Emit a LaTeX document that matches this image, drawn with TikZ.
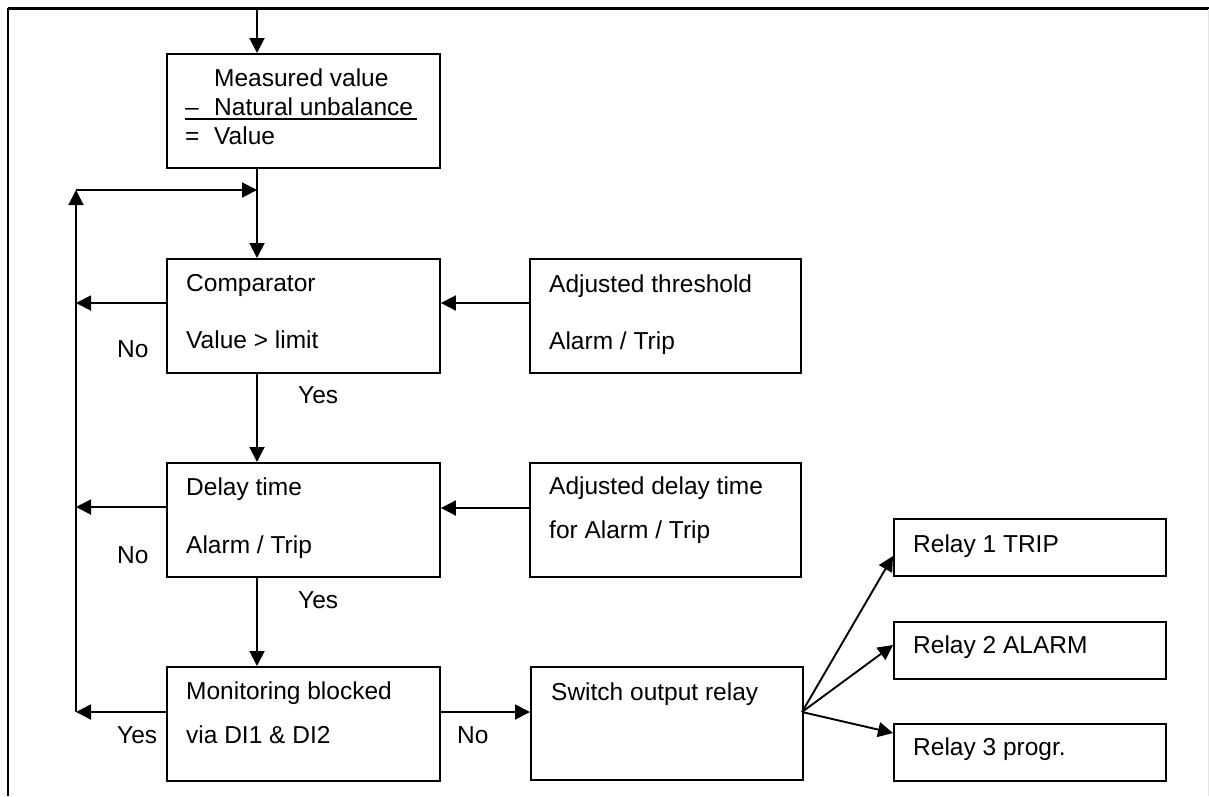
\documentclass[tikz,border=0pt]{standalone}
\usepackage{fontspec}
\setmainfont{Liberation Sans}
\usetikzlibrary{arrows.meta,calc}
\begin{document}
\begin{tikzpicture}[x=1pt,y=-1pt,
  box/.style={draw, line width=1.9pt, inner sep=0pt, anchor=north west, minimum width=273pt, minimum height=114pt},
  rbox/.style={draw, line width=1.9pt, inner sep=0pt, anchor=north west, minimum width=272pt, minimum height=57pt},
  txt/.style={anchor=base west, inner sep=0pt, font=\fontsize{24.5}{29}\selectfont},
  arr/.style={line width=1.9pt, -{Triangle[length=15pt,width=15pt]}},
  ln/.style={line width=1.9pt}]
\useasboundingbox (0,0) rectangle (1209,796);
% frame
\draw[line width=3pt] (8,8) -- (1209,8);
\draw[line width=2pt] (8,8) -- (8,796);
\draw[line width=1pt, black!10] (1208,9) -- (1208,796);
% boxes
\node[box] (meas) at (166,53) {};
\node[box] (comp) at (166,258) {};
\node[box, minimum width=271pt] (thr) at (529,258) {};
\node[box] (delay) at (166,462) {};
\node[box, minimum width=271pt] (adel) at (529,462) {};
\node[box] (mon) at (166,666) {};
\node[box, minimum width=272pt, minimum height=113pt] (sw) at (530,666) {};
\node[rbox] (r1) at (893,518) {};
\node[rbox] (r2) at (893,621) {};
\node[rbox] (r3) at (893,723) {};
% texts
\node[txt] (t1) at (214,86) {Measured value};
\node[txt] (t2a) at (185,115) {–};
\node[txt] (t2) at (214,115) {Natural unbalance};
\node[txt] (t3a) at (185,144) {=};
\node[txt] (t3) at (214,144) {Value};
\draw[ln] (185,119) -- (417,119);
\node[txt] (c1) at (186,291) {Comparator};
\node[txt] (c2) at (186,348) {Value > limit};
\node[txt] (th1) at (549,292) {Adjusted threshold};
\node[txt] (th2) at (549,349) {Alarm / Trip};
\node[txt] (d1) at (186,495) {Delay time};
\node[txt] (d2) at (186,553) {Alarm / Trip};
\node[txt] (ad1) at (549,494) {Adjusted delay time};
\node[txt] (ad2) at (549,538) {for Alarm / Trip};
\node[txt] (m1) at (186,699) {Monitoring blocked};
\node[txt] (m2) at (186,743) {via DI1 \& DI2};
\node[txt] (s1) at (551,700) {Switch output relay};
\node[txt] (rt1) at (913,552) {Relay 1 TRIP};
\node[txt] (rt2) at (913,653) {Relay 2 ALARM};
\node[txt] (rt3) at (913,755) {Relay 3 progr.};
\node[txt] (no1) at (117,357) {No};
\node[txt] (no2) at (117,563) {No};
\node[txt] (yes1) at (298,403) {Yes};
\node[txt] (yes2) at (298,608) {Yes};
\node[txt] (yes3) at (117,743) {Yes};
\node[txt] (no3) at (457,743) {No};
% coordinates
\coordinate (top) at (257,8);
\coordinate (join) at (257,190);
\coordinate (ltop) at (76,190);
\coordinate (lc) at (76,303);
\coordinate (ld) at (76,507);
\coordinate (lm) at (76,712);
\coordinate (fan) at (802,712);
% connectors
\draw[arr] (top) -- (top |- meas.north);
\draw[arr] (top |- meas.south) -- (top |- comp.north);
\draw[arr] (top |- comp.south) -- (top |- delay.north);
\draw[arr] (top |- delay.south) -- (top |- mon.north);
\draw[arr] (comp.west |- lc) -- (lc);
\draw[arr] (delay.west |- ld) -- (ld);
\draw[arr] (mon.west |- lm) -- (lm);
\draw[arr] (lm) -- (ltop);
\draw[arr] (ltop) -- (join);
\draw[arr] (thr.west |- lc) -- (comp.east |- lc);
\draw[arr] (adel.west |- 0,508) -- (delay.east |- 0,508);
\draw[arr] (mon.east |- lm) -- (sw.west |- lm);
\draw[arr] (fan) -- (r1.west |- 0,556);
\draw[arr] (fan) -- (r2.west |- 0,645);
\draw[arr] (fan) -- (r3.west |- 0,733);
\end{tikzpicture}
\end{document}
